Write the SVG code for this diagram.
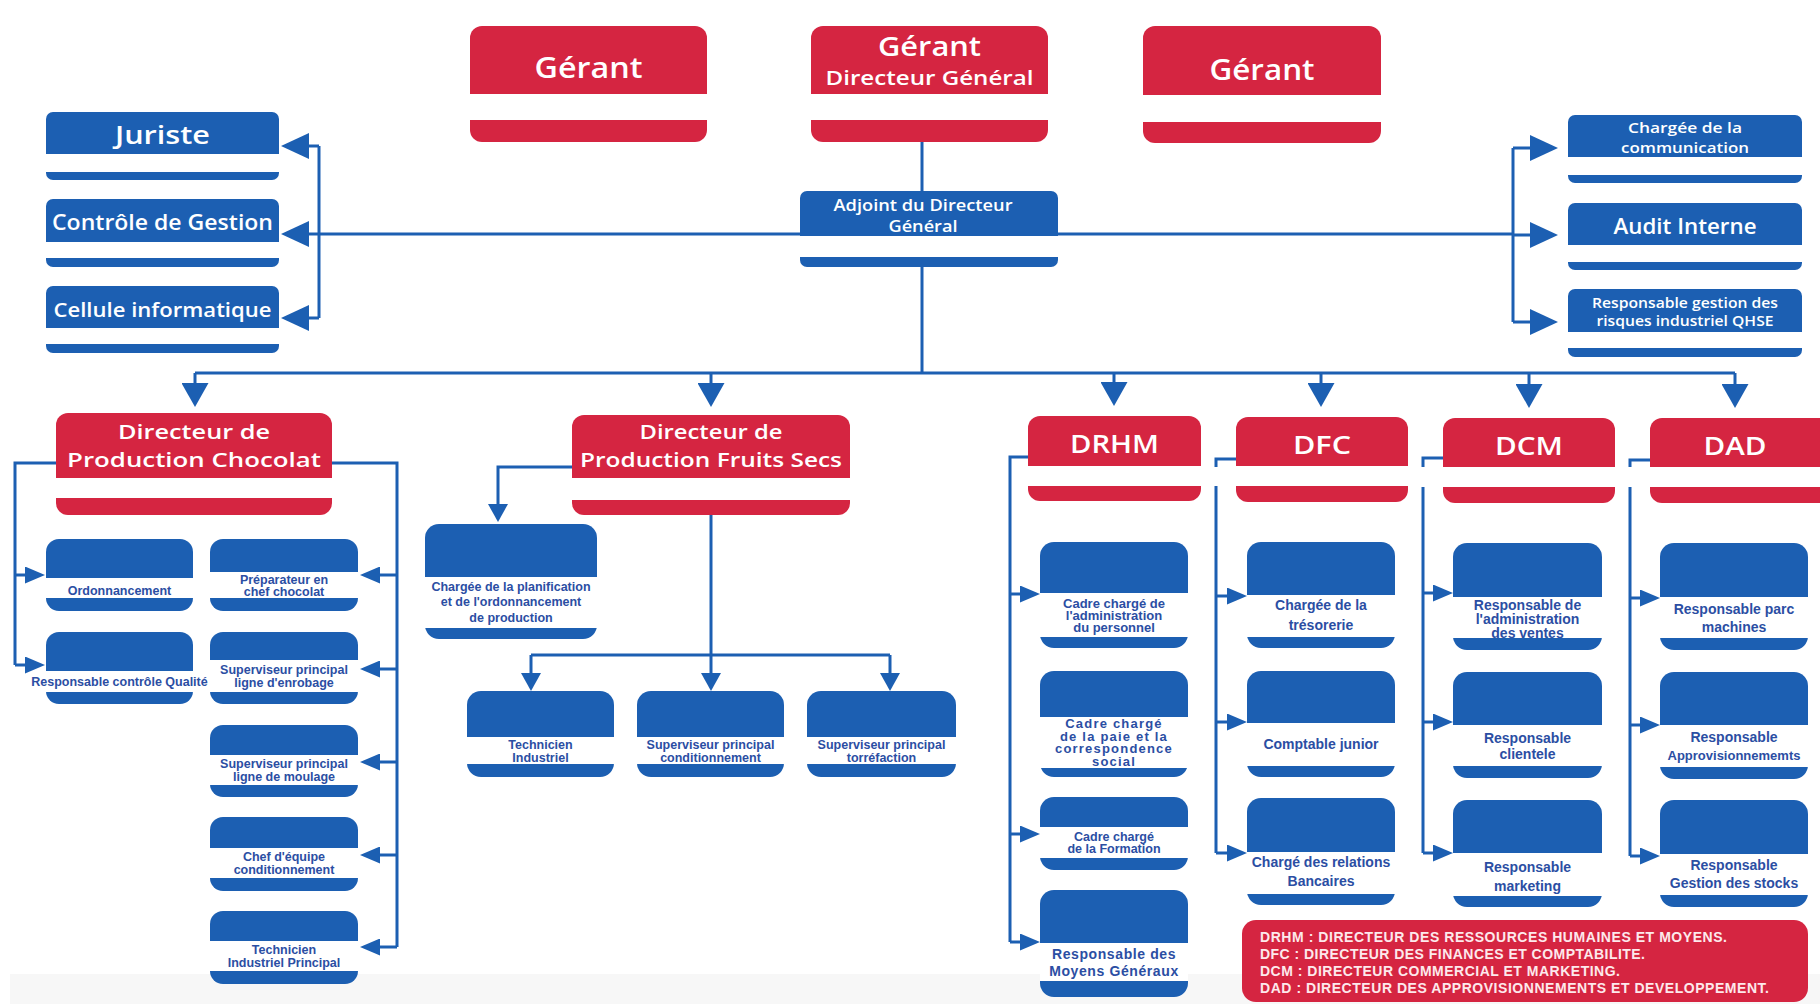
<svg xmlns="http://www.w3.org/2000/svg" width="1820" height="1004" viewBox="0 0 1820 1004">
  <style>
    .red { fill: #d52541; }
    .blue { fill: #1c5fb2; }
    .band { fill: #ffffff; }
    .hd { font-family: "Open Sans", "Liberation Sans", sans-serif; font-weight: 600; fill: #ffffff; text-anchor: middle; dominant-baseline: central; }
    .sub { font-family: "Liberation Sans", Arial, sans-serif; font-weight: 700; fill: #2b4ea3; text-anchor: middle; dominant-baseline: central; font-size: 12.5px; }
    .s14 { font-size: 14px; }
    .s13 { font-size: 13px; }
    .leg { font-family: "Liberation Sans", Arial, sans-serif; font-weight: 700; fill: #fde9ec; font-size: 14px; }
    .conn { fill: none; stroke: #1c5fb2; stroke-width: 3; }
  </style>
  <defs>
    <marker id="arrL" markerUnits="userSpaceOnUse" markerWidth="28" markerHeight="26" refX="18" refY="13" orient="auto">
      <path d="M0,0 L28,13 L0,26 z" fill="#1c5fb2"/>
    </marker>
    <marker id="arrD" markerUnits="userSpaceOnUse" markerWidth="24" markerHeight="27" refX="14" refY="13.5" orient="auto">
      <path d="M0,0 L24,13.5 L0,27 z" fill="#1c5fb2"/>
    </marker>
    <marker id="arrM" markerUnits="userSpaceOnUse" markerWidth="18" markerHeight="20" refX="8" refY="10" orient="auto">
      <path d="M0,0 L18,10 L0,20 z" fill="#1c5fb2"/>
    </marker>
    <marker id="arrS" markerUnits="userSpaceOnUse" markerWidth="20" markerHeight="17" refX="10" refY="8.5" orient="auto">
      <path d="M0,0 L20,8.5 L0,17 z" fill="#1c5fb2"/>
    </marker>
  </defs>

  <rect x="0" y="0" width="1820" height="1004" fill="#ffffff"/>
  <rect x="10" y="974" width="1810" height="30" fill="#f7f7f7"/>

  <!-- connectors -->
  <g id="connectors" class="conn">
    <path d="M922,140 V191"/>
    <path d="M319,234 H1513"/>
    <path d="M319,146 V318"/>
    <path d="M319,146 H291" marker-end="url(#arrL)"/>
    <path d="M319,234 H291" marker-end="url(#arrL)"/>
    <path d="M319,318 H291" marker-end="url(#arrL)"/>
    <path d="M1513,148 V322"/>
    <path d="M1513,148 H1548" marker-end="url(#arrL)"/>
    <path d="M1513,235 H1548" marker-end="url(#arrL)"/>
    <path d="M1513,322 H1548" marker-end="url(#arrL)"/>

    <path d="M922,265 V373"/>
    <path d="M195,373 H1735"/>
    <path d="M195,373 V397" marker-end="url(#arrD)"/>
    <path d="M711,373 V397" marker-end="url(#arrD)"/>
    <path d="M1114,373 V396" marker-end="url(#arrD)"/>
    <path d="M1321,373 V397" marker-end="url(#arrD)"/>
    <path d="M1529,373 V398" marker-end="url(#arrD)"/>
    <path d="M1735,373 V398" marker-end="url(#arrD)"/>

    <!-- Production Chocolat -->
    <path d="M56,463 H15 V665"/>
    <path d="M15,575 H35" marker-end="url(#arrS)"/>
    <path d="M15,665 H35" marker-end="url(#arrS)"/>
    <path d="M332,463 H397 V947"/>
    <path d="M397,575 H370" marker-end="url(#arrS)"/>
    <path d="M397,669 H370" marker-end="url(#arrS)"/>
    <path d="M397,762 H370" marker-end="url(#arrS)"/>
    <path d="M397,855 H370" marker-end="url(#arrS)"/>
    <path d="M397,947 H370" marker-end="url(#arrS)"/>

    <!-- Production Fruits Secs -->
    <path d="M572,467 H498 V512" marker-end="url(#arrM)"/>
    <path d="M711,515 V655"/>
    <path d="M531,655 H890"/>
    <path d="M531,655 V681" marker-end="url(#arrM)"/>
    <path d="M711,655 V681" marker-end="url(#arrM)"/>
    <path d="M890,655 V681" marker-end="url(#arrM)"/>

    <!-- DRHM -->
    <path d="M1028,457 H1010 V942"/>
    <path d="M1010,594 H1030" marker-end="url(#arrS)"/>
    <path d="M1010,834 H1030" marker-end="url(#arrS)"/>
    <path d="M1010,942 H1030" marker-end="url(#arrS)"/>
    <!-- DFC -->
    <path d="M1236,459 H1216 V467 M1216,486 V853"/>
    <path d="M1216,596 H1237" marker-end="url(#arrS)"/>
    <path d="M1216,722 H1237" marker-end="url(#arrS)"/>
    <path d="M1216,853 H1237" marker-end="url(#arrS)"/>
    <!-- DCM -->
    <path d="M1443,458 H1423 V467 M1423,487 V853"/>
    <path d="M1423,593 H1443" marker-end="url(#arrS)"/>
    <path d="M1423,722 H1443" marker-end="url(#arrS)"/>
    <path d="M1423,853 H1443" marker-end="url(#arrS)"/>
    <!-- DAD -->
    <path d="M1650,460 H1630 V467 M1630,487 V856"/>
    <path d="M1630,598 H1650" marker-end="url(#arrS)"/>
    <path d="M1630,725 H1650" marker-end="url(#arrS)"/>
    <path d="M1630,856 H1650" marker-end="url(#arrS)"/>
  </g>

  <!-- top management -->
  <g id="gerant-1">
    <rect class="red" x="470" y="26" width="237" height="116" rx="12"/>
    <rect class="band" x="470" y="94" width="237" height="26"/>
    <text class="hd" x="588.5" y="67" font-size="28" textLength="108" lengthAdjust="spacingAndGlyphs">Gérant</text>
  </g>
  <g id="gerant-dg">
    <rect class="red" x="811" y="26" width="237" height="116" rx="12"/>
    <rect class="band" x="811" y="94" width="237" height="26"/>
    <text class="hd" x="929.5" y="45" font-size="27" textLength="103" lengthAdjust="spacingAndGlyphs">Gérant</text>
    <text class="hd" x="929.5" y="77" font-size="20" font-weight="500" textLength="208" lengthAdjust="spacingAndGlyphs">Directeur Général</text>
  </g>
  <g id="gerant-2">
    <rect class="red" x="1143" y="26" width="238" height="117" rx="12"/>
    <rect class="band" x="1143" y="95" width="238" height="27"/>
    <text class="hd" x="1262" y="69" font-size="28" textLength="105" lengthAdjust="spacingAndGlyphs">Gérant</text>
  </g>
  <g id="adjoint-dg">
    <rect class="blue" x="800" y="191" width="258" height="76" rx="7"/>
    <rect class="band" x="800" y="236" width="258" height="21"/>
    <text class="hd" x="923" y="205" font-size="16" font-weight="700" textLength="179" lengthAdjust="spacingAndGlyphs">Adjoint du Directeur</text>
    <text class="hd" x="923" y="226" font-size="16" font-weight="700" textLength="69" lengthAdjust="spacingAndGlyphs">Général</text>
  </g>

  <!-- staff functions, left -->
  <g id="juriste">
    <rect class="blue" x="46" y="112" width="233" height="68" rx="7"/>
    <rect class="band" x="46" y="154" width="233" height="18"/>
    <text class="hd" x="162.5" y="134" font-size="25" textLength="95" lengthAdjust="spacingAndGlyphs">Juriste</text>
  </g>
  <g id="controle-gestion">
    <rect class="blue" x="46" y="199" width="233" height="68" rx="7"/>
    <rect class="band" x="46" y="242" width="233" height="16"/>
    <text class="hd" x="162.5" y="222" font-size="21" textLength="221" lengthAdjust="spacingAndGlyphs">Contrôle de Gestion</text>
  </g>
  <g id="cellule-informatique">
    <rect class="blue" x="46" y="286" width="233" height="67" rx="7"/>
    <rect class="band" x="46" y="328" width="233" height="16"/>
    <text class="hd" x="162.5" y="309" font-size="20" textLength="218" lengthAdjust="spacingAndGlyphs">Cellule informatique</text>
  </g>

  <!-- staff functions, right -->
  <g id="communication">
    <rect class="blue" x="1568" y="115" width="234" height="68" rx="7"/>
    <rect class="band" x="1568" y="157" width="234" height="18"/>
    <text class="hd" x="1685" y="127" font-size="15" font-weight="500" textLength="114" lengthAdjust="spacingAndGlyphs">Chargée de la</text>
    <text class="hd" x="1685" y="147" font-size="15" font-weight="500" textLength="128" lengthAdjust="spacingAndGlyphs">communication</text>
  </g>
  <g id="audit-interne">
    <rect class="blue" x="1568" y="203" width="234" height="67" rx="7"/>
    <rect class="band" x="1568" y="245" width="234" height="17"/>
    <text class="hd" x="1685" y="226" font-size="21" textLength="143" lengthAdjust="spacingAndGlyphs">Audit Interne</text>
  </g>
  <g id="qhse">
    <rect class="blue" x="1568" y="289" width="234" height="68" rx="7"/>
    <rect class="band" x="1568" y="332" width="234" height="16"/>
    <text class="hd" x="1685" y="302" font-size="14" textLength="186" lengthAdjust="spacingAndGlyphs">Responsable gestion des</text>
    <text class="hd" x="1685" y="320" font-size="14" textLength="177" lengthAdjust="spacingAndGlyphs">risques industriel QHSE</text>
  </g>

  <!-- directions -->
  <g id="dir-chocolat">
    <rect class="red" x="56" y="413" width="276" height="102" rx="12"/>
    <rect class="band" x="56" y="478" width="276" height="20"/>
    <text class="hd" x="194" y="431" font-size="20.5" font-weight="500" textLength="152" lengthAdjust="spacingAndGlyphs">Directeur de</text>
    <text class="hd" x="194" y="459" font-size="20.5" font-weight="500" textLength="254" lengthAdjust="spacingAndGlyphs">Production Chocolat</text>
  </g>
  <g id="dir-fruits-secs">
    <rect class="red" x="572" y="415" width="278" height="100" rx="12"/>
    <rect class="band" x="572" y="478" width="278" height="22"/>
    <text class="hd" x="711" y="431" font-size="20.5" font-weight="500" textLength="143" lengthAdjust="spacingAndGlyphs">Directeur de</text>
    <text class="hd" x="711" y="459" font-size="20.5" font-weight="500" textLength="262" lengthAdjust="spacingAndGlyphs">Production Fruits Secs</text>
  </g>
  <g id="drhm">
    <rect class="red" x="1028" y="416" width="173" height="85" rx="12"/>
    <rect class="band" x="1028" y="466" width="173" height="20"/>
    <text class="hd" x="1114.5" y="443" font-size="25" font-weight="500" textLength="89" lengthAdjust="spacingAndGlyphs">DRHM</text>
  </g>
  <g id="dfc">
    <rect class="red" x="1236" y="417" width="172" height="85" rx="12"/>
    <rect class="band" x="1236" y="466" width="172" height="20"/>
    <text class="hd" x="1322" y="444" font-size="25" font-weight="500" textLength="58" lengthAdjust="spacingAndGlyphs">DFC</text>
  </g>
  <g id="dcm">
    <rect class="red" x="1443" y="418" width="172" height="85" rx="12"/>
    <rect class="band" x="1443" y="467" width="172" height="20"/>
    <text class="hd" x="1529" y="445" font-size="25" font-weight="500" textLength="68" lengthAdjust="spacingAndGlyphs">DCM</text>
  </g>
  <g id="dad">
    <rect class="red" x="1650" y="418" width="185" height="85" rx="12"/>
    <rect class="band" x="1650" y="467" width="185" height="20"/>
    <text class="hd" x="1735" y="445" font-size="25" font-weight="500" textLength="63" lengthAdjust="spacingAndGlyphs">DAD</text>
  </g>

  <!-- Production Chocolat units -->
  <g id="ordonnancement">
    <rect class="blue" x="46" y="539" width="147" height="72" rx="13"/>
    <rect class="band" x="46" y="578" width="147" height="20"/>
    <text class="sub" x="119.5" y="591">Ordonnancement</text>
  </g>
  <g id="preparateur">
    <rect class="blue" x="210" y="539" width="148" height="72" rx="13"/>
    <rect class="band" x="210" y="572" width="148" height="26"/>
    <text class="sub" x="284" y="580">Préparateur en</text>
    <text class="sub" x="284" y="592">chef chocolat</text>
  </g>
  <g id="controle-qualite">
    <rect class="blue" x="46" y="632" width="147" height="72" rx="13"/>
    <rect class="band" x="46" y="671" width="147" height="21"/>
    <text class="sub" x="119.5" y="682" font-size="10">Responsable contrôle Qualité</text>
  </g>
  <g id="sup-enrobage">
    <rect class="blue" x="210" y="632" width="148" height="72" rx="13"/>
    <rect class="band" x="210" y="660" width="148" height="32"/>
    <text class="sub" x="284" y="670">Superviseur principal</text>
    <text class="sub" x="284" y="683">ligne d'enrobage</text>
  </g>
  <g id="sup-moulage">
    <rect class="blue" x="210" y="725" width="148" height="72" rx="13"/>
    <rect class="band" x="210" y="755" width="148" height="30"/>
    <text class="sub" x="284" y="764">Superviseur principal</text>
    <text class="sub" x="284" y="777">ligne de moulage</text>
  </g>
  <g id="chef-equipe">
    <rect class="blue" x="210" y="817" width="148" height="74" rx="13"/>
    <rect class="band" x="210" y="848" width="148" height="30"/>
    <text class="sub" x="284" y="857">Chef d'équipe</text>
    <text class="sub" x="284" y="870">conditionnement</text>
  </g>
  <g id="technicien-principal">
    <rect class="blue" x="210" y="911" width="148" height="73" rx="13"/>
    <rect class="band" x="210" y="941" width="148" height="30"/>
    <text class="sub" x="284" y="950">Technicien</text>
    <text class="sub" x="284" y="963">Industriel Principal</text>
  </g>

  <!-- Production Fruits Secs units -->
  <g id="planification">
    <rect class="blue" x="425" y="524" width="172" height="115" rx="14"/>
    <rect class="band" x="425" y="577" width="172" height="51"/>
    <text class="sub" x="511" y="587">Chargée de la planification</text>
    <text class="sub" x="511" y="602">et de l'ordonnancement</text>
    <text class="sub" x="511" y="618">de production</text>
  </g>
  <g id="technicien-industriel">
    <rect class="blue" x="467" y="691" width="147" height="86" rx="14"/>
    <rect class="band" x="467" y="737" width="147" height="27"/>
    <text class="sub" x="540.5" y="745">Technicien</text>
    <text class="sub" x="540.5" y="758">Industriel</text>
  </g>
  <g id="sup-conditionnement">
    <rect class="blue" x="637" y="691" width="147" height="86" rx="14"/>
    <rect class="band" x="637" y="737" width="147" height="27"/>
    <text class="sub" x="710.5" y="745">Superviseur principal</text>
    <text class="sub" x="710.5" y="758">conditionnement</text>
  </g>
  <g id="sup-torrefaction">
    <rect class="blue" x="807" y="691" width="149" height="86" rx="14"/>
    <rect class="band" x="807" y="737" width="149" height="27"/>
    <text class="sub" x="881.5" y="745">Superviseur principal</text>
    <text class="sub" x="881.5" y="758">torréfaction</text>
  </g>

  <!-- DRHM units -->
  <g id="admin-personnel">
    <rect class="blue" x="1040" y="542" width="148" height="106" rx="14"/>
    <rect class="band" x="1040" y="593" width="148" height="44"/>
    <text class="sub s13" x="1114" y="603">Cadre chargé de</text>
    <text class="sub s13" x="1114" y="615">l'administration</text>
    <text class="sub s13" x="1114" y="627">du personnel</text>
  </g>
  <g id="paie">
    <rect class="blue" x="1040" y="671" width="148" height="106" rx="14"/>
    <rect class="band" x="1040" y="717" width="148" height="51"/>
    <text class="sub s13" x="1114" y="723" letter-spacing="1.2">Cadre chargé</text>
    <text class="sub s13" x="1114" y="736" letter-spacing="1.2">de la paie et la</text>
    <text class="sub s13" x="1114" y="748" letter-spacing="1.2">correspondence</text>
    <text class="sub s13" x="1114" y="761" letter-spacing="1.2">social</text>
  </g>
  <g id="formation">
    <rect class="blue" x="1040" y="797" width="148" height="73" rx="14"/>
    <rect class="band" x="1040" y="827" width="148" height="31"/>
    <text class="sub" x="1114" y="837">Cadre chargé</text>
    <text class="sub" x="1114" y="849">de la Formation</text>
  </g>
  <g id="moyens-generaux">
    <rect class="blue" x="1040" y="890" width="148" height="107" rx="14"/>
    <rect class="band" x="1040" y="943" width="148" height="38"/>
    <text class="sub s14" x="1114" y="954" letter-spacing="0.6">Responsable des</text>
    <text class="sub s14" x="1114" y="971" letter-spacing="0.6">Moyens Généraux</text>
  </g>

  <!-- DFC units -->
  <g id="tresorerie">
    <rect class="blue" x="1247" y="542" width="148" height="106" rx="14"/>
    <rect class="band" x="1247" y="595" width="148" height="42"/>
    <text class="sub s14" x="1321" y="605">Chargée de la</text>
    <text class="sub s14" x="1321" y="625">trésorerie</text>
  </g>
  <g id="comptable">
    <rect class="blue" x="1247" y="671" width="148" height="106" rx="14"/>
    <rect class="band" x="1247" y="723" width="148" height="43"/>
    <text class="sub s14" x="1321" y="744">Comptable junior</text>
  </g>
  <g id="relations-bancaires">
    <rect class="blue" x="1247" y="798" width="148" height="107" rx="14"/>
    <rect class="band" x="1247" y="852" width="148" height="42"/>
    <text class="sub s14" x="1321" y="862">Chargé des relations</text>
    <text class="sub s14" x="1321" y="881">Bancaires</text>
  </g>

  <!-- DCM units -->
  <g id="admin-ventes">
    <rect class="blue" x="1453" y="543" width="149" height="107" rx="14"/>
    <rect class="band" x="1453" y="597" width="149" height="41"/>
    <text class="sub s14" x="1527.5" y="605">Responsable de</text>
    <text class="sub s14" x="1527.5" y="619">l'administration</text>
    <text class="sub s14" x="1527.5" y="633">des ventes</text>
  </g>
  <g id="clientele">
    <rect class="blue" x="1453" y="672" width="149" height="106" rx="14"/>
    <rect class="band" x="1453" y="725" width="149" height="41"/>
    <text class="sub s14" x="1527.5" y="738">Responsable</text>
    <text class="sub s14" x="1527.5" y="754">clientele</text>
  </g>
  <g id="marketing">
    <rect class="blue" x="1453" y="800" width="149" height="107" rx="14"/>
    <rect class="band" x="1453" y="853" width="149" height="43"/>
    <text class="sub s14" x="1527.5" y="867">Responsable</text>
    <text class="sub s14" x="1527.5" y="886">marketing</text>
  </g>

  <!-- DAD units -->
  <g id="parc-machines">
    <rect class="blue" x="1660" y="543" width="148" height="107" rx="14"/>
    <rect class="band" x="1660" y="597" width="148" height="41"/>
    <text class="sub s14" x="1734" y="609">Responsable parc</text>
    <text class="sub s14" x="1734" y="627">machines</text>
  </g>
  <g id="approvisionnements">
    <rect class="blue" x="1660" y="672" width="148" height="107" rx="14"/>
    <rect class="band" x="1660" y="725" width="148" height="42"/>
    <text class="sub s14" x="1734" y="737">Responsable</text>
    <text class="sub s13" x="1734" y="755">Approvisionnememts</text>
  </g>
  <g id="stocks">
    <rect class="blue" x="1660" y="800" width="148" height="107" rx="14"/>
    <rect class="band" x="1660" y="854" width="148" height="41"/>
    <text class="sub s14" x="1734" y="865">Responsable</text>
    <text class="sub s14" x="1734" y="883">Gestion des stocks</text>
  </g>

  <!-- abbreviations -->
  <g id="legend">
    <rect class="red" x="1242" y="920" width="566" height="82" rx="14"/>
    <text class="leg" x="1260" y="942" textLength="467">DRHM : DIRECTEUR DES RESSOURCES HUMAINES ET MOYENS.</text>
    <text class="leg" x="1260" y="959" textLength="385">DFC : DIRECTEUR DES FINANCES ET COMPTABILITE.</text>
    <text class="leg" x="1260" y="976" textLength="360">DCM : DIRECTEUR COMMERCIAL ET MARKETING.</text>
    <text class="leg" x="1260" y="993" textLength="509">DAD : DIRECTEUR DES APPROVISIONNEMENTS ET DEVELOPPEMENT.</text>
  </g>
</svg>
